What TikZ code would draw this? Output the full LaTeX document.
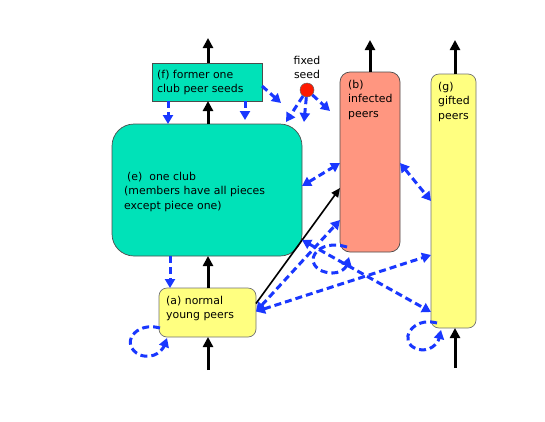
\documentclass[tikz,border=0pt]{standalone}
\usepackage{fontspec}
\setmainfont{DejaVu Sans}
\usetikzlibrary{arrows.meta,calc}
\definecolor{clubteal}{RGB}{0,226,184}
\definecolor{infsalmon}{RGB}{255,150,128}
\definecolor{peeryellow}{RGB}{255,255,128}
\definecolor{flowblue}{RGB}{25,55,255}
\definecolor{seedred}{RGB}{255,25,0}
\begin{document}
\begin{tikzpicture}[x=1pt,y=-1pt,
  box/.style={draw=black!70,line width=0.7pt,inner sep=0pt,outer sep=0pt},
  txt/.style={anchor=north west,align=left,inner sep=0pt,font=\fontsize{10.9}{14.5}\selectfont},
  bigup/.style={line width=3pt,-{Triangle[length=10pt,width=10pt]}},
  thinarr/.style={line width=1.6pt,-{Triangle[length=9pt,width=8pt]}},
  flow/.style={draw=flowblue,line width=3pt,dash pattern=on 7pt off 4pt,-{Triangle[length=9pt,width=10pt]}},
  flow2/.style={draw=flowblue,line width=3pt,dash pattern=on 7pt off 4pt,{Triangle[length=9pt,width=10pt]}-{Triangle[length=9pt,width=10pt]}}]
\useasboundingbox (0,0) rectangle (545,421);
\fill[white] (0,0) rectangle (545,421);

% boxes
\node[box,fill=clubteal,minimum width=110pt,minimum height=38pt] (f) at (207,82) {};
\node[box,fill=clubteal,rounded corners=22pt,minimum width=190pt,minimum height=132pt] (e) at (207,190) {};
\node[box,fill=peeryellow,draw=black!55,rounded corners=8pt,minimum width=97pt,minimum height=49pt] (a) at (207.5,312.5) {};
\node[box,fill=infsalmon,rounded corners=10pt,minimum width=60pt,minimum height=180pt] (b) at (370,162) {};
\node[box,fill=peeryellow,draw=black!55,rounded corners=8pt,minimum width=45pt,minimum height=254pt] (g) at (453.5,201) {};
\node[circle,draw=black!60,line width=0.5pt,fill=seedred,minimum size=14pt,inner sep=0pt] (seed) at (307,90) {};

% texts
\node[txt] (ft) at (157,70) {(f) former one\\club peer seeds};
\node[txt] (et) at (124,172) {\hspace{3pt}(e)\hspace{7pt}one club\\(members have all pieces\\except piece one)};
\node[txt] (at) at (166,296) {(a) normal\\young peers};
\node[txt] (bt) at (348,80) {(b)\\infected\\peers};
\node[txt] (gt) at (438,82) {(g)\\gifted\\peers};
\node[txt,anchor=north,align=center] (st) at (307,56) {fixed\\seed};

% free ends
\coordinate (fout) at (208,38);
\coordinate (ain) at (208,370);
\coordinate (bout) at (370,40);
\coordinate (gout) at (455,40);
\coordinate (gin) at (455,368);
\coordinate (f2end) at (245,120);
\coordinate (f3end) at (281,103);
\coordinate (s1) at (286,122);
\coordinate (s2) at (304,122);
\coordinate (s3) at (330,111);

% black arrows
\draw[bigup] ([xshift=1pt]f.north) -- (fout);
\draw[bigup] ([xshift=1pt]e.north) -- ([xshift=1pt]f.south);
\draw[bigup] ([xshift=0.5pt]a.north) -- ([xshift=1pt]e.south);
\draw[bigup] (ain) -- ([xshift=0.5pt]a.south);
\draw[bigup] (b.north) -- (bout);
\draw[bigup] ([xshift=1.5pt]g.north) -- (gout);
\draw[bigup] (gin) -- ([xshift=1.5pt]g.south);
\draw[thinarr] ([yshift=9pt]a.east) -- ([yshift=-26pt]b.west);

% blue flows
\draw[flow] ([xshift=-39pt]f.south) -- ([xshift=-39pt]e.north);
\draw[flow] ([xshift=38pt]f.south) -- (f2end);
\draw[flow] ([yshift=-4pt]f.east) -- (f3end);
\draw[flow] (seed) -- (s1);
\draw[flow] (seed) -- (s2);
\draw[flow] (seed) -- (s3);
\draw[flow] ([xshift=-37pt]e.south) -- ([xshift=-37.5pt]a.north);
\draw[flow2] ([yshift=4pt]e.east) -- ([yshift=-1pt]b.west);
\draw[flow2] ([yshift=-1pt]b.east) -- (g.west);
\draw[flow2] ([yshift=16pt]e.south east) -- ([yshift=-111pt]g.west);
\draw[flow2] ([yshift=1pt]a.east) -- ([yshift=-58pt]b.west);
\draw[flow2] ([yshift=1pt]a.east) -- ([yshift=-54pt]g.west);

% self loops
\draw[flow] ([shift={(7,-5)}]b.south west) .. controls (318,238) and (302,262) .. (322,271) .. controls (338,277) and (346,268) .. ([shift={(9,5)}]b.south west);
\draw[flow] ([shift={(1,-9)}]a.south west) .. controls (135,321) and (119,345) .. (140,355) .. controls (155,360) and (163,349) .. ([shift={(8,1)}]a.south west);
\draw[flow] ([shift={(6,-5)}]g.south west) .. controls (412,316) and (397,342) .. (417,349) .. controls (430,353) and (438,343) .. ([shift={(10,2)}]g.south west);
\end{tikzpicture}
\end{document}
